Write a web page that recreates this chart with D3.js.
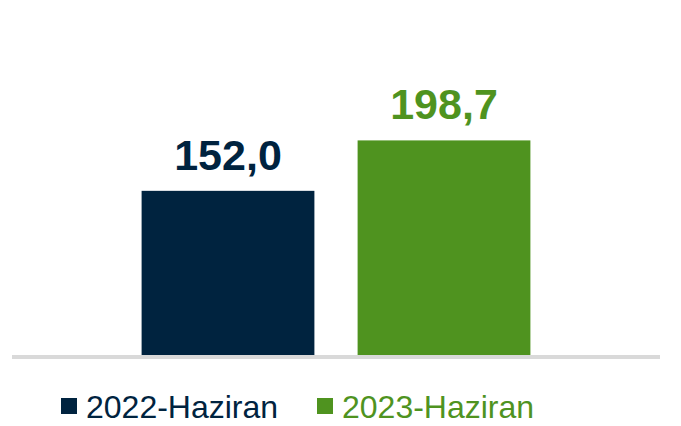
<!doctype html>
<html>
<head>
  <meta charset="utf-8">
  <style>
    body { margin: 0; background: #fff; }
    svg { display: block; font-family: "Liberation Sans", Arial, sans-serif; }
    .label { font-weight: bold; font-size: 43px; text-anchor: middle; }
    .legend text { font-size: 32px; }
  </style>
</head>
<body>
<svg width="681" height="426"></svg>
<script src="https://cdn.jsdelivr.net/npm/d3@7"></script>
<script>
  var series = ["2022-Haziran", "2023-Haziran"];
  var values = [152.0, 198.7];
  var colors = ["#00233f", "#4f931f"];

  var svg = d3.select("svg");

  var x = d3.scaleBand()
    .domain(series)
    .range([12, 660])
    .paddingInner(0.2)
    .paddingOuter(0.6);

  var y = d3.scaleLinear()
    .domain([0, 250])
    .range([355, 85]);

  var fmt = function (v) { return d3.format(".1f")(v).replace(".", ","); };

  var bars = svg.append("g")
    .selectAll("rect")
    .data(values)
    .enter().append("rect")
    .attr("x", (d, i) => x(series[i]))
    .attr("y", (d) => y(d))
    .attr("width", x.bandwidth())
    .attr("height", (d) => y(0) - y(d))
    .attr("fill", (d, i) => colors[i]);

  // baseline
  svg.append("line")
    .attr("x1", 12).attr("x2", 660)
    .attr("y1", y(0) + 2).attr("y2", y(0) + 2)
    .attr("stroke", "#d9d9d9")
    .attr("stroke-width", 4);

  svg.append("g")
    .selectAll("text")
    .data(values)
    .enter().append("text")
    .attr("class", "label")
    .attr("x", (d, i) => x(series[i]) + x.bandwidth() / 2)
    .attr("y", (d) => y(d) - 21)
    .attr("fill", (d, i) => colors[i])
    .text((d) => fmt(d));

  var legendX = [61, 317];
  var legend = svg.append("g")
    .attr("class", "legend")
    .selectAll("g")
    .data(series)
    .enter().append("g")
    .attr("transform", (d, i) => `translate(${legendX[i]},398)`);

  legend.append("rect")
    .attr("width", 16).attr("height", 16)
    .attr("fill", (d, i) => colors[i]);

  legend.append("text")
    .attr("x", 25)
    .attr("y", 20)
    .attr("fill", (d, i) => colors[i])
    .text((d) => d);
</script>
</body>
</html>
